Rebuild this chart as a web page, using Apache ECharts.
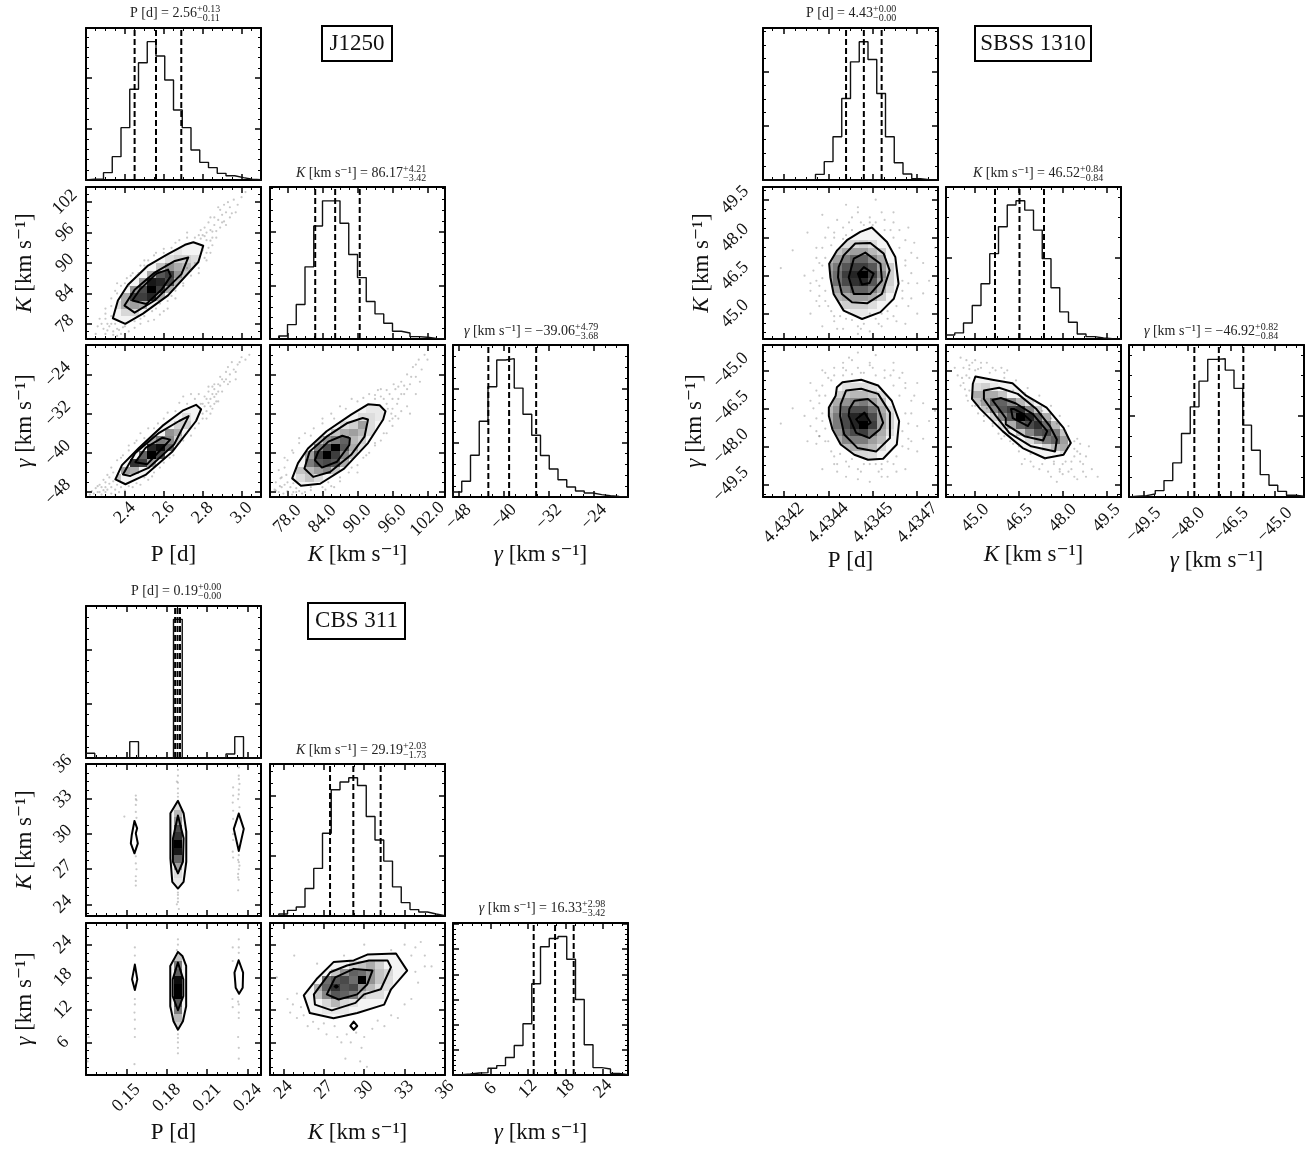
<!DOCTYPE html>
<html>
<head>
<meta charset="utf-8">
<script src="https://cdn.jsdelivr.net/npm/echarts@6/dist/echarts.min.js"></script>
<style>html,body{margin:0;background:#fff}#main{width:1313px;height:1153px}</style>
</head>
<body>
<div id="main"></div>
<script>
// ---- J1250 ----
var j1250PHist = [7,10,72,229,513,889,1150,1356,1216,980,686,513,294,173,121,65,42,23,7,3];
var j1250KHist = [3,28,134,322,672,1053,1287,1287,1078,787,572,350,234,147,72,56,22,16,6,3];
var j1250GHist = [46,145,386,700,1018,1265,1278,1006,765,571,383,259,160,92,56,37,22,12,6,3];
var j1250PDash = [2.45,2.56,2.69], j1250KDash = [82.75,86.17,90.38], j1250GDash = [-42.74,-39.06,-34.27];
var j1250PK = [
  [[2.338,79.1],[2.402,78],[2.493,80],[2.622,83.6],[2.778,90.2],[2.803,93.4],[2.752,94.1],[2.709,93.6],[2.614,91.6],[2.519,89.5],[2.416,85.7],[2.364,82.6]],
  [[2.398,81.6],[2.45,80.2],[2.553,82.6],[2.691,87.8],[2.726,91.1],[2.657,90.4],[2.553,88.1],[2.45,84.7]],
  [[2.438,82.6],[2.51,81.9],[2.588,84.7],[2.636,87.4],[2.622,88.7],[2.562,87.9],[2.476,84.7]]
];
var j1250PG = [
  [[2.351,-45.4],[2.403,-46.4],[2.506,-44.5],[2.645,-39.7],[2.766,-33.5],[2.792,-31.1],[2.766,-30.2],[2.697,-31.4],[2.593,-34.5],[2.472,-39],[2.385,-42.5]],
  [[2.39,-44.4],[2.428,-44.7],[2.524,-43],[2.653,-38.3],[2.728,-32.5],[2.679,-33.5],[2.576,-35.9],[2.454,-40]],
  [[2.454,-41.9],[2.515,-42.3],[2.593,-39],[2.633,-37.3],[2.593,-36.9],[2.506,-39]]
];
var j1250KG = [
  [[78.8,-45.2],[80.3,-46.7],[83.6,-46.3],[87.7,-43.2],[91.8,-38],[94.4,-33.2],[94.8,-31.5],[93.8,-30.3],[91.8,-30.1],[88.9,-32.2],[84.7,-35.6],[81.5,-39.1],[79.8,-42.1]],
  [[80.9,-43.2],[82.4,-44.9],[85.3,-43.9],[88.9,-40.4],[91.2,-36.7],[91.8,-33.2],[90.9,-32.9],[88.3,-33.9],[84.7,-36.7],[81.8,-39.7]],
  [[82.7,-41.5],[83.9,-43],[86.5,-41.8],[88.6,-38.4],[88.7,-37],[87.4,-36.5],[85,-37.7],[83.3,-39.7]]
];
// cell rows: [y bin, first x bin, darkness...]
var j1250PKCells = [[3,4,.12,.12],[4,3,.1,.3,.35,.3],[5,4,.3,.75,.75,.85,.3],[6,5,.4,.7,1,.75,.3],[7,6,.35,.9,.85,.7,.25],[8,7,.3,.65,.75,.4,.2],[9,8,.2,.4,.3,.25,.1],[10,9,.1,.15,.15,.1],[11,10,.05]];
var j1250PGCells = [[2,3,.2],[3,4,.35,.3],[4,5,.8,.75,.35],[5,6,.6,1,.7],[6,7,.85,.95,.6],[7,7,.3,.5,.45,.15],[8,9,.4,.3],[9,10,.15,.15],[10,11,.1]];
var j1250KGCells = [[2,3,.1,.2,.1],[3,3,.2,.25,.35,.45,.2],[4,4,.5,.65,.7,.65,.3],[5,4,.35,.75,1,.75,.45,.2],[6,5,.5,.7,1,.65,.3,.1],[7,5,.2,.4,.5,.6,.25,.15],[8,7,.2,.3,.35,.25,.1],[9,8,.1,.15,.35,.1],[10,10,.1,.1,.05],[11,11,.05,.05]];
var j1250PKDots = [[2.8,95.5],[2.82,94.5],[2.84,96.5],[2.81,97],[2.85,95],[2.86,97.5],[2.83,98],[2.88,98.5],[2.87,96.3],[2.9,99.5],[2.89,100.5],[2.92,100],[2.91,98.2],[2.94,101],[2.93,102],[2.96,102.5],[2.98,101.5],[3,103],[3.02,104],[2.95,99.8],[2.79,96.5],[2.76,95],[2.72,95],[2.85,93.5],[2.8,92.5],[2.84,92],[2.82,90.5],[2.3,79],[2.32,77.5],[2.34,76.5],[2.28,78],[2.36,77],[2.3,76],[2.26,77.5],[2.33,78],[2.38,76],[2.42,76.5],[2.4,75.8],[2.45,77.2],[2.48,78],[2.52,78.5],[2.25,76],[2.3,81],[2.33,81.5],[2.36,84],[2.4,86],[2.43,87.5],[2.47,88],[2.5,90.5],[2.55,91.5],[2.6,92.8],[2.66,94],[2.58,79.8],[2.55,78.8],[2.62,81],[2.66,83],[2.7,85.5],[2.74,87.5],[2.78,88],[2.66,84.5],[2.72,89],[2.6,80.5],[2.76,90],[2.36,86],
  [2.33,83],[2.35,84.5],[2.38,85.5],[2.41,87],[2.44,88],[2.48,89.5],[2.52,90.5],[2.56,92],[2.6,92],[2.64,93],[2.68,94.5],[2.72,96],[2.42,85.5],[2.46,87.5],[2.5,89.5],[2.4,77.5],[2.45,78.5],[2.5,79.5],[2.54,80.5],[2.58,82],[2.62,82.5],[2.66,85],[2.7,86],[2.74,88.5],[2.78,89],[2.82,92],[2.81,91],[2.48,79],[2.56,81],[2.64,83.5],[2.3,80],[2.31,78],[2.33,79.5],[2.35,78],[2.37,76.8],[2.29,77],[2.27,79],[2.34,75.8],[2.31,76.7],[2.36,75.6],[2.39,77.3],[2.83,93],[2.85,96.2],[2.87,95],[2.86,99],[2.89,97],[2.9,98],[2.92,97.5],[2.94,99],[2.97,100],[2.84,99],[2.88,101],[2.91,101.5],[2.79,94.8],[2.82,96],[2.78,95.5],[2.81,95.3],[2.84,94.4]];
var j1250PGDots = [[2.8,-30],[2.82,-31.5],[2.84,-29],[2.83,-27.5],[2.86,-30],[2.87,-28],[2.85,-26.5],[2.88,-26],[2.9,-27.5],[2.89,-24.5],[2.91,-25.5],[2.93,-26],[2.92,-23.5],[2.94,-24],[2.96,-23],[2.95,-21.5],[2.98,-22],[3,-20.5],[3.02,-21],[3.04,-20],[2.97,-25],[2.76,-29],[2.78,-28],[2.81,-28.5],[2.84,-32],[2.86,-26],[2.88,-29.5],[2.8,-33],[2.32,-45],[2.3,-46],[2.33,-47],[2.28,-47],[2.26,-48],[2.3,-48],[2.24,-48.3],[2.35,-47.5],[2.37,-48],[2.34,-44],[2.38,-47],[2.27,-46.5],[2.31,-44.5],[2.4,-47.7],[2.44,-47],[2.22,-48.5],[2.38,-41],[2.42,-39.5],[2.46,-37.5],[2.5,-37],[2.55,-35],[2.6,-33],[2.66,-31.5],[2.72,-30],[2.52,-45.5],[2.58,-43],[2.63,-41],[2.68,-38],[2.72,-36],[2.76,-35],[2.8,-32],[2.48,-46.5],
  [2.33,-43],[2.36,-41.5],[2.39,-40.5],[2.42,-38.5],[2.45,-38],[2.48,-36],[2.52,-35],[2.57,-34],[2.62,-31.8],[2.68,-29.8],[2.7,-28.5],[2.74,-28],[2.42,-46.8],[2.46,-46.2],[2.5,-45],[2.55,-44],[2.6,-42],[2.65,-40.5],[2.7,-37.5],[2.74,-36.5],[2.78,-34],[2.82,-33],[2.85,-31],[2.54,-44.8],[2.82,-29],[2.84,-30.5],[2.85,-28],[2.86,-27],[2.87,-29.5],[2.88,-27.5],[2.89,-26.3],[2.83,-26.5],[2.81,-30.5],[2.79,-30],[2.83,-29.8],[2.86,-28.6],[2.9,-25],[2.92,-25],[2.94,-25.5],[2.93,-22.5],[2.97,-23.5],[2.99,-21.5],[2.3,-47],[2.29,-45.5],[2.32,-46.3],[2.34,-45.8],[2.25,-47.2],[2.28,-48.5],[2.31,-47.5],[2.33,-48.3],[2.36,-46.5],[2.27,-48],[2.35,-48.5],[2.23,-47.8],[2.29,-47.6],[2.26,-46.8]];
var j1250KGDots = [[95,-30],[96,-31],[97,-29],[95.5,-28],[96.5,-27],[98,-28],[97.5,-25.5],[99,-26],[98.5,-24],[100,-24.5],[99.5,-22.5],[101,-23],[100.5,-21],[102,-21],[101.5,-20],[94.5,-29],[93,-29],[96,-33],[97,-33],[98.5,-30.5],[100,-28],[94,-27],[92,-28],[97.5,-31.5],[99,-32],[77,-47],[76.5,-48],[78,-48],[79,-48],[80,-47.8],[78,-46],[77,-45],[76,-46],[81,-48],[75.8,-47.5],[79.5,-47.2],[82,-47.6],[84.5,-47.5],[76.5,-43.5],[77.5,-43],[78,-41.5],[79,-40],[80,-38],[82,-36.5],[84,-34],[86,-33],[88,-31],[90,-29.5],[85,-46],[87,-45],[89,-43],[91,-41],[93,-38],[95,-36],[96,-34.5],[92,-40],[90,-44],[94,-37.5],
  [77.5,-41],[78.8,-39.5],[80,-37],[81,-36],[82.5,-35],[84,-33],[85.5,-32],[87,-30.5],[89,-29],[91,-28.8],[93,-28.2],[82,-47],[84,-47],[85.5,-46.8],[87,-45.8],[88.5,-44],[90,-42.5],[91.5,-40.5],[93,-38.5],[94.5,-36],[95.5,-33.5],[96.5,-32.5],[86,-47],[95.2,-31],[96,-29],[96.8,-30],[97.5,-28],[95,-27.2],[96.2,-26],[97,-26.5],[98,-26.3],[98.5,-27],[99.2,-24.5],[100,-22],[100.7,-25.5],[94,-28.5],[93.5,-27.2],[95.8,-32],[77.5,-46.5],[78.5,-47],[79,-46.2],[76.7,-46.8],[77.8,-44.5],[78,-47.8],[79.5,-48],[80.5,-48.3],[76,-47.7],[76.8,-45.2],[77.3,-48.3],[78.8,-48.5]];

// ---- SBSS 1310 ----
var sbssPHist = [0,0,0,0,5,10,84,272,642,1210,1753,2050,1788,1284,642,257,89,20,5,0];
var sbssKHist = [40,60,158,330,545,841,1106,1320,1363,1270,1073,792,505,267,165,50,23,10,3,0];
var sbssGHist = [7,13,30,63,162,337,627,891,1145,1360,1366,1254,1073,710,462,221,116,56,17,7];
var sbssPDash = [4.43436,4.43442,4.43448], sbssKDash = [45.68,46.52,47.36], sbssGDash = [-47.76,-46.92,-46.08];
var sbssPK = [
  [[4.434303,46.97],[4.434307,46.44],[4.434318,45.78],[4.434352,45.12],[4.434414,44.79],[4.434476,45.06],[4.434521,45.59],[4.434537,46.18],[4.434526,47.24],[4.434498,47.83],[4.434447,48.4],[4.434408,48.23],[4.434363,47.9],[4.43433,47.5]],
  [[4.434333,46.44],[4.434346,45.78],[4.43438,45.45],[4.434431,45.41],[4.434481,45.78],[4.434507,46.71],[4.434487,47.37],[4.434442,47.79],[4.434391,47.77],[4.434352,47.3],[4.434335,46.84]],
  [[4.434369,46.44],[4.434386,45.78],[4.434442,45.78],[4.434481,46.31],[4.434476,46.97],[4.434425,47.41],[4.434386,47.17]],
  [[4.4344,46.58],[4.434414,46.15],[4.434439,46.21],[4.434453,46.58],[4.43442,46.84]]
];
var sbssPG = [
  [[4.434302,-46.8],[4.434314,-47.33],[4.434342,-47.93],[4.434388,-48.33],[4.434434,-48.53],[4.434485,-48.49],[4.434531,-47.93],[4.434539,-47],[4.434514,-46.2],[4.434468,-45.6],[4.434411,-45.37],[4.434348,-45.47],[4.434329,-45.67],[4.434325,-46],[4.434302,-46.47]],
  [[4.43434,-46.8],[4.434354,-47.53],[4.434399,-48.07],[4.434462,-48.2],[4.434508,-47.67],[4.434508,-46.67],[4.434468,-45.93],[4.434411,-45.73],[4.43436,-45.8],[4.434342,-46.33]],
  [[4.434369,-46.8],[4.434394,-47.47],[4.434439,-47.67],[4.434474,-47.33],[4.434485,-47.07],[4.434468,-46.47],[4.434434,-46.13],[4.434388,-46.2],[4.434371,-46.53]],
  [[4.434394,-46.93],[4.434417,-47.27],[4.434443,-47.07],[4.434422,-46.67]]
];
var sbssKG = [
  [[45.01,-45.24],[44.92,-45.53],[44.89,-46.13],[45.18,-46.53],[45.94,-47.4],[46.63,-48.07],[47.39,-48.47],[48.03,-48.33],[48.28,-47.87],[48.03,-47.27],[47.45,-46.47],[46.75,-46],[46.28,-45.51],[45.59,-45.37]],
  [[45.3,-45.8],[45.3,-46.13],[45.71,-46.8],[46.17,-47.47],[46.92,-48],[47.74,-48.2],[47.8,-47.73],[47.56,-47.2],[47.1,-46.53],[46.46,-45.93],[45.82,-45.69]],
  [[45.59,-46.17],[46.05,-46.89],[46.05,-47.13],[46.69,-47.6],[47.33,-47.77],[47.47,-47.4],[46.98,-46.73],[46.4,-46.31],[45.88,-46.09]],
  [[46.23,-46.53],[46.29,-46.89],[46.81,-47.2],[46.92,-47],[46.63,-46.71],[46.34,-46.53]]
];
var sbssPKCells = [[3,10,.05,.05],[4,8,.1,.15,.15,.15,.1],[5,7,.1,.25,.3,.35,.35,.3,.15],[6,7,.25,.35,.5,.6,.6,.5,.3,.1],[7,6,.1,.35,.55,.7,.8,.85,.65,.35,.15],[8,6,.1,.4,.55,.75,.85,1,.75,.45,.15],[9,6,.1,.35,.5,.65,.75,.75,.65,.35,.15],[10,7,.25,.35,.5,.6,.6,.45,.3],[11,7,.1,.2,.3,.35,.35,.25,.15],[12,9,.1,.12,.15,.1]];
var sbssPGCells = [[5,9,.1,.12,.12,.1],[6,8,.15,.25,.3,.3,.25,.1],[7,7,.15,.3,.45,.5,.5,.35,.25],[8,7,.25,.4,.6,.7,.75,.55,.3,.1],[9,7,.3,.5,.7,.85,1,.75,.35,.15],[10,7,.3,.5,.7,.85,.9,.7,.35,.15],[11,7,.25,.4,.6,.7,.7,.55,.3,.1],[12,7,.15,.3,.4,.45,.5,.35,.2],[13,8,.15,.2,.25,.25,.2,.1],[14,9,.08,.1,.1,.08]];
var sbssKGCells = [[5,13,.1,.1],[6,11,.12,.25,.3,.2,.05],[7,9,.1,.3,.5,.6,.35,.15],[8,8,.2,.45,.65,.7,.5,.2],[9,6,.1,.3,.6,.7,.8,.55,.25],[10,5,.15,.45,.65,1,.85,.6,.3],[11,4,.2,.45,.65,.75,.8,.45,.2],[12,3,.2,.35,.6,.6,.45,.25,.1],[13,2,.1,.3,.3,.3,.2],[14,2,.1,.1,.15,.05]];
var sbssPKDots = [[4.43422,46.5],[4.43426,47.2],[4.43424,45.9],[4.43428,46.9],[4.43427,46.1],[4.43429,45.5],[4.43428,47.6],[4.43432,48],[4.43431,45.1],[4.43435,48.4],[4.43436,44.8],[4.43438,48.8],[4.4344,44.5],[4.43432,44.9],[4.4344,49.2],[4.43444,48.8],[4.43447,44.6],[4.43449,48.7],[4.43452,44.9],[4.43454,48.3],[4.43457,45.3],[4.43459,47.8],[4.4346,46.2],[4.43458,46.6],[4.43462,47],[4.43464,46.3],[4.43456,47.1],[4.43457,48.4],[4.43452,49],[4.43446,49.5],[4.43436,49.3],[4.43428,48.9],[4.43423,48.2],[4.43418,47.5],[4.43414,46.8],[4.43424,45],[4.43428,44.5],[4.43444,44.3],[4.43456,44.6],[4.4346,45],[4.43466,47.6],[4.43462,45.8],[4.43455,45.9],[4.43441,48.6],[4.43437,45],[4.4343,48.4],[4.43451,48.3],[4.43448,45],[4.43433,44.4],[4.43444,45],[4.43427,45.7],[4.43426,47.6],[4.4346,47.2],[4.43445,48.5],[4.43436,48.1],[4.4345,44.8],
  [4.43429,47.2],[4.43428,46.4],[4.43429,45.9],[4.4343,45.3],[4.43434,44.9],[4.43438,44.75],[4.43442,44.6],[4.43446,44.8],[4.4345,45.1],[4.43453,45.3],[4.43455,45.6],[4.43455,46.3],[4.43456,46.9],[4.43454,47.6],[4.43452,48],[4.43449,48.3],[4.43446,48.6],[4.43442,48.5],[4.43438,48.3],[4.43435,47.95],[4.43431,47.7],[4.43427,47],[4.43426,46.3],[4.43427,45.3],[4.43432,44.7],[4.43441,44.4],[4.43448,44.5],[4.43453,44.7],[4.43458,45.6],[4.43457,46.2],[4.43458,47.4],[4.43456,47.9],[4.43452,48.6],[4.43444,48.6],[4.43437,48.6],[4.43432,48.2],[4.43429,48],[4.43425,46.7],[4.43424,46.2],[4.43426,45.5],[4.4344,49],[4.43448,49],[4.43433,48.7],[4.4344,44.2],[4.43435,44.4]];
var sbssPGDots = [[4.43422,-46.8],[4.43426,-47.4],[4.43424,-46.2],[4.43428,-47],[4.43427,-46.3],[4.43429,-47.8],[4.43428,-45.6],[4.43432,-45.2],[4.43431,-48.2],[4.43435,-44.9],[4.43436,-48.6],[4.43438,-44.6],[4.4344,-48.9],[4.43432,-48.7],[4.4344,-44.3],[4.43444,-44.8],[4.43447,-49],[4.43449,-45],[4.43452,-48.7],[4.43454,-45.3],[4.43457,-48.1],[4.43459,-46],[4.4346,-47.2],[4.43458,-46.7],[4.43462,-46.3],[4.43464,-47],[4.43456,-45.7],[4.43457,-47.7],[4.43452,-44.7],[4.43446,-44.4],[4.43436,-49.2],[4.43428,-48.9],[4.43423,-47.8],[4.43418,-46.5],[4.43414,-47.1],[4.43424,-45.5],[4.43428,-45],[4.43444,-49.4],[4.43456,-48.9],[4.4346,-48.2],[4.43466,-46.6],[4.43462,-47.7],[4.43455,-45.1],[4.43441,-45.1],[4.43437,-48.8],[4.4343,-45.3],[4.43451,-45.2],[4.43448,-48.7],[4.43433,-49],[4.43444,-48.7],[4.43427,-47.6],[4.43426,-45.8],[4.4346,-45.5],[4.43445,-44.9],[4.43436,-45],[4.4345,-49.2],
  [4.43429,-46],[4.43428,-46.7],[4.43429,-47.3],[4.4343,-47.8],[4.43434,-48.3],[4.43438,-48.5],[4.43442,-48.7],[4.43446,-48.7],[4.4345,-48.6],[4.43453,-48.4],[4.43455,-48],[4.43455,-47.4],[4.43456,-46.7],[4.43454,-46],[4.43452,-45.6],[4.43449,-45.3],[4.43446,-45.2],[4.43442,-45.1],[4.43438,-45.15],[4.43435,-45.2],[4.43431,-45.4],[4.43427,-46],[4.43426,-46.9],[4.43427,-47.6],[4.43432,-48.4],[4.43441,-49],[4.43448,-49.2],[4.43453,-49],[4.43458,-47.8],[4.43457,-47.1],[4.43458,-46.2],[4.43456,-45.5],[4.43452,-45],[4.43444,-44.7],[4.43437,-44.5],[4.43432,-44.9],[4.43429,-45.1],[4.43425,-46.5],[4.43424,-47.2],[4.43426,-47.9],[4.4344,-49.3],[4.43448,-48.9],[4.43433,-48.7],[4.4344,-44.9],[4.43435,-44.7]];
var sbssKGDots = [[44.4,-45.2],[44.6,-44.9],[44.5,-45.6],[44.7,-46],[44.8,-44.8],[45,-44.6],[45.2,-44.9],[45.4,-44.7],[45.7,-45],[46,-45.3],[44.9,-46.4],[45.1,-46.7],[45.3,-47],[44.6,-45.5],[44.8,-45.3],[45,-45],[46.3,-45.8],[46.7,-45.9],[47,-46.2],[47.3,-46.6],[47.6,-46.9],[47.8,-47.1],[48.1,-47.4],[48.4,-47.8],[48.5,-48.2],[48.6,-48.6],[48.3,-48.6],[48,-48.7],[47.7,-48.6],[47.4,-48.5],[46.9,-48.3],[46.5,-48],[46,-47.6],[45.6,-47.2],[48.7,-49],[48.4,-49.2],[48,-49.1],[47.8,-49.4],[48.9,-48],[49,-48.9],[49.2,-49.2],[47.2,-48.9],[46.6,-48.7],[48.2,-48],[48.4,-48.4],[48.6,-47.9],[47.9,-48.9],[47.5,-49],[46.3,-47.9],[45.8,-47.5],[45.4,-46.5],[45.2,-46.2],[45.9,-44.9],[44.5,-44.5],[44.3,-44.9],[48.8,-48.4],
  [44.7,-45.2],[44.8,-45.8],[44.75,-46.2],[45,-46.4],[45.3,-46.8],[45.6,-47.1],[45.9,-47.7],[46.2,-47.8],[46.5,-48.2],[46.9,-48.6],[47.3,-48.7],[47.7,-48.7],[48.1,-48.6],[48.4,-48.1],[48.5,-47.7],[48.2,-47.2],[47.9,-46.8],[47.6,-46.4],[47.2,-46],[46.8,-45.7],[46.4,-45.4],[46,-45.1],[45.5,-45.1],[45.1,-44.95],[44.8,-44.95],[44.55,-45.3],[44.65,-45.75],[48.6,-48.3],[48.7,-48.7],[48.5,-49.3],[48.2,-49],[47.9,-49],[47.6,-49.2],[47,-48.8],[46.7,-48.5],[48.8,-49.2],[48.3,-48.9],[45.2,-44.7],[44.9,-44.7],[44.7,-44.6],[45.6,-44.9],[46.1,-45]];

// ---- CBS 311 ----
var cbsPHist = [260,0,0,0,0,906,0,0,0,0,7680,0,0,0,0,0,222,1184,0,0];
var cbsKHist = [0,17,47,75,228,395,687,1048,1112,1148,1084,826,631,456,242,111,53,33,17,3];
var cbsGHist = [7,20,40,47,133,187,347,587,1020,1814,2548,2714,2754,2300,1500,600,147,120,33,7];
var cbsPDash = [.1862,.188,.1898], cbsKDash = [27.46,29.19,31.22], cbsGDash = [12.91,16.33,19.31];
var cbsPK = [
  [[.1883,32.85],[.1827,31.79],[.1827,27.93],[.1841,25.92],[.1883,25.35],[.1925,25.92],[.1945,27.64],[.1945,30.22],[.1925,31.79]],
  [[.1883,31.59],[.1846,29.64],[.1846,27.64],[.1883,26.64],[.192,27.64],[.1925,29.64]],
  [[.156,31.13],[.154,29.93],[.1533,29.21],[.156,28.36],[.1585,29.21],[.157,30.07],[.158,30.5]],
  [[.2335,31.76],[.2298,30.45],[.2335,28.56],[.2372,30.45]]
];
var cbsPG = [
  [[.1883,22.68],[.1826,20.09],[.1826,12.67],[.185,9.89],[.1883,8.35],[.192,9.89],[.1944,12.67],[.1944,20.09],[.1916,21.94]],
  [[.1883,20.71],[.1844,17.62],[.1844,14.53],[.1883,11.93],[.1923,14.53],[.1923,17.62]],
  [[.1563,20.34],[.1542,17.62],[.1563,15.64],[.1581,17.62]],
  [[.2334,21.14],[.2303,18.85],[.2312,16.07],[.2337,14.96],[.2364,16.07],[.2367,18.85]]
];
var cbsKG = [
  [[25.51,14.66],[25.96,11.41],[27.72,10.47],[29.48,11.41],[31.48,12.97],[31.99,15.79],[33.19,19.23],[32.36,22.37],[30.23,22.18],[29.22,21.11],[27.72,20.8],[26.46,17.67]],
  [[26.26,14.85],[26.34,12.97],[27.59,11.91],[29.35,13.29],[29.98,14.85],[31.23,15.79],[31.99,19.86],[31.73,21.11],[30.35,21.11],[28.72,20.17],[27.47,18.92]],
  [[27.22,14.85],[28.1,13.91],[29.48,14.85],[30.23,16.73],[30.61,19.23],[29.22,19.55],[27.85,18]],
  [[29.22,9.84],[28.97,9.03],[29.22,8.34],[29.48,9.03]],
  [[27.8,16.3],[27.92,16.5],[28.04,16.3],[27.92,16.1]]
];
var cbsPKCells = [[4,10,.05],[5,10,.1],[6,10,.35],[7,10,.6],[8,10,.9],[9,10,1],[10,10,.8],[11,10,.7],[12,10,.4],[13,10,.25],[14,10,.1],[15,10,.05]];
var cbsPGCells = [[5,10,.05],[6,10,.15],[7,10,.25],[8,10,.5],[9,10,.65],[10,10,1],[11,10,1],[12,10,.95],[13,10,.6],[14,10,.5],[15,10,.2],[16,10,.05]];
var cbsKGCells = [[8,6,.05,.05,.05],[9,6,.12,.25,.12,.08],[10,5,.2,.45,.65,.6,.5,.2,.1,.1],[11,5,.3,.6,.8,.65,.7,.4,.25,.1,.08],[12,6,.55,.65,.7,.55,1,.4,.2,.1],[13,7,.2,.4,.6,.55,.4,.2,.12],[14,9,.15,.2,.3,.15]];
var cbsPKDots = [[.1883,24.2],[.1883,24.8],[.1875,24],[.189,23.6],[.1883,25],[.1883,33.2],[.1883,33.9],[.1875,34.5],[.1883,35],[.157,33.3],[.157,32.5],[.157,31.9],[.1575,31.4],[.157,28.1],[.157,27.5],[.1575,27],[.157,26.4],[.157,25.6],[.1575,32.9],[.2335,35.7],[.2335,35],[.234,34.3],[.2335,33.8],[.233,33],[.234,32.3],[.2335,28.2],[.233,27.8],[.234,27.3],[.2335,27],[.233,26.6],[.2335,26.1],[.233,25.2],[.2293,34],[.2293,33.3],[.229,32.7],[.2293,32],[.2293,31.3],[.2293,29.5],[.229,28.5],[.1485,31.5],[.1883,35.5],[.1883,34.4],[.1883,33.5],[.1883,24.5],[.157,33],[.157,26],[.2335,34.7],[.2335,33.4],[.2335,27.6],[.233,26.3],[.2293,30],[.2293,28]];
var cbsPGDots = [[.1883,7.5],[.1883,6.8],[.1883,6],[.1883,5],[.1883,4],[.1883,24],[.1883,25],[.1875,23],[.1563,23.5],[.1563,22],[.1563,14],[.1563,13],[.156,11.5],[.1563,10.2],[.1563,8.5],[.1563,7],[.156,2],[.2335,25],[.2335,23.5],[.2335,22.5],[.233,13.5],[.2335,13],[.2335,11.5],[.2335,10.5],[.233,7],[.2335,5],[.2335,3],[.229,23.5],[.229,21],[.2288,14],[.229,12.5],[.1212,21],[.1212,15],[.1212,12],[.122,7],[.1212,2.5],[.123,18]];
var cbsKGDots = [[24.3,14],[24.7,13],[25,15],[25.3,12.5],[24.5,11.5],[25,10.5],[25.5,11],[25.8,9],[26.2,9.8],[26.6,8.5],[27,9.5],[27.2,7.5],[27.8,9],[28,7],[28.3,6],[28.7,7.5],[29,6],[29.4,7.8],[29.8,5],[30,7],[30.6,8.5],[31,10],[31.5,9],[32,11],[32.5,10.5],[33,13],[33.5,14],[34,17],[34.5,20],[33.8,19],[34.5,22],[33.8,23.5],[33,24],[34.2,24.5],[32,23],[35,20],[30,24],[28.5,22],[26.5,20.5],[24.8,22],[23.5,18],[28.6,3],[29.7,2.5],[30.2,1.5],[33.5,22]];

var SERIF = '"Liberation Serif","DejaVu Serif",serif';
var NAMES = ['P [d]', '{i|K} [km s⁻¹]', '{i|γ} [km s⁻¹]'];

var stars = [
  { name: 'J1250', box: [322,26,70,35], cols: [86,270,453], rows: [28,187,345],
    lims: [[2.2,3.1],[75,105],[-49,-18]],
    ticks: [[2.4,2.6,2.8,3.0],[78,84,90,96,102],[-48,-40,-32,-24]],
    xLabels: [['2.4','2.6','2.8','3.0'],['78.0','84.0','90.0','96.0','102.0'],['−48','−40','−32','−24']],
    yLabels: [null,['78','84','90','96','102'],['−48','−40','−32','−24']],
    xMargin: [16,22,20], yMargin: [0,21,28], xNameGap: [46,46,46],
    hist: [j1250PHist,j1250KHist,j1250GHist], dash: [j1250PDash,j1250KDash,j1250GDash],
    histTop: [1490,1416,1404], histStep: [500,500,500], histDiv: [5,5,5],
    pairs: [[0,1,j1250PK,j1250PKCells,j1250PKDots],[0,2,j1250PG,j1250PGCells,j1250PGDots],[1,2,j1250KG,j1250KGCells,j1250KGDots]] },
  { name: 'SBSS 1310', box: [975,26,116,35], cols: [763,946,1129], rows: [28,187,345],
    lims: [[4.43408,4.43467],[44,50],[-50,-44]],
    ticks: [[4.43415,4.4343,4.43445,4.4346],[45,46.5,48,49.5],[-49.5,-48,-46.5,-45]],
    xLabels: [['4.4342','4.4344','4.4345','4.4347'],['45.0','46.5','48.0','49.5'],['−49.5','−48.0','−46.5','−45.0']],
    yLabels: [null,['45.0','46.5','48.0','49.5'],['−49.5','−48.0','−46.5','−45.0']],
    xMargin: [26,21,28], yMargin: [0,28,32], xNameGap: [40,46,40],
    hist: [sbssPHist,sbssKHist,sbssGHist], dash: [sbssPDash,sbssKDash,sbssGDash],
    histTop: [2255,1498,1502], histStep: [800,800,800], histDiv: [4,4,4],
    pairs: [[0,1,sbssPK,sbssPKCells,sbssPKDots],[0,2,sbssPG,sbssPGCells,sbssPGDots],[1,2,sbssKG,sbssKGCells,sbssKGDots]] },
  { name: 'CBS 311', box: [308,603,97,36], cols: [86,270,453], rows: [606,764,923],
    lims: [[.12,.25],[23,36],[0,28]],
    ticks: [[.15,.18,.21,.24],[24,27,30,33,36],[6,12,18,24]],
    xLabels: [['0.15','0.18','0.21','0.24'],['24','27','30','33','36'],['6','12','18','24']],
    yLabels: [null,['24','27','30','33','36'],['6','12','18','24']],
    xMargin: [23,15,14], yMargin: [0,23,23], xNameGap: [46,46,46],
    hist: [cbsPHist,cbsKHist,cbsGHist], dash: [cbsPDash,cbsKDash,cbsGDash],
    histTop: [8420,1262,3021], histStep: [3000,500,500], histDiv: [5,5,5],
    pairs: [[0,1,cbsPK,cbsPKCells,cbsPKDots],[0,2,cbsPG,cbsPGCells,cbsPGDots],[1,2,cbsKG,cbsKGCells,cbsKGDots]] }
];

// [text, right end of base text, y, plus, minus]
var titles = [
  ['P [d] = 2.56',197,13,'+0.13','−0.11'],['{i|K} [km s⁻¹] = 86.17',403,173,'+4.21','−3.42'],['{i|γ} [km s⁻¹] = −39.06',575,331,'+4.79','−3.68'],
  ['P [d] = 4.43',873,13,'+0.00','−0.00'],['{i|K} [km s⁻¹] = 46.52',1080,173,'+0.84','−0.84'],['{i|γ} [km s⁻¹] = −46.92',1255,331,'+0.82','−0.84'],
  ['P [d] = 0.19',198,591,'+0.00','−0.00'],['{i|K} [km s⁻¹] = 29.19',403,750,'+2.03','−1.73'],['{i|γ} [km s⁻¹] = 16.33',582,908,'+2.98','−3.42']
];

var PW = 175, PH = 152, BINS = 20;
var option = { animation: false, backgroundColor: '#fff', grid: [], xAxis: [], yAxis: [], series: [], graphic: [] };

function minorsOf(majors, ndiv, lim) {
  var step = (majors[1] - majors[0]) / ndiv, out = [];
  for (var k = -ndiv * 3; k < ndiv * (majors.length + 3); k++) {
    if (((k % ndiv) + ndiv) % ndiv === 0) continue;
    var v = majors[0] + k * step;
    if (v >= lim[0] && v <= lim[1]) out.push(v);
  }
  return out;
}

function addPanel(left, top, xLim, yLim, xMajor, yMajor, yDiv, xCfg, yCfg) {
  var g = option.grid.length;
  option.grid.push({ left: left, top: top, width: PW, height: PH, containLabel: false });
  var xMinor = minorsOf(xMajor, 4, xLim), yMinor = minorsOf(yMajor, yDiv, yLim);
  var xi = option.xAxis.length, yi = option.yAxis.length;
  function axis(lim, pos, vals, len, width, line, extra) {
    var a = { type: 'value', gridIndex: g, position: pos, min: lim[0], max: lim[1], splitLine: { show: false },
      axisLine: { show: line, onZero: false, lineStyle: { color: '#000', width: 2 } },
      axisTick: { show: true, inside: true, length: len, customValues: vals, lineStyle: { color: '#000', width: width } },
      axisLabel: { show: false } };
    return Object.assign(a, extra || {});
  }
  function labelled(cfg, vals) {
    if (!cfg) return {};
    var o = { axisLabel: { show: true, rotate: 45, align: 'center', verticalAlign: 'middle', margin: cfg.margin,
      customValues: vals, fontFamily: SERIF, fontSize: 18, color: '#111',
      formatter: function (v) { return cfg.labels[vals.indexOf(v)]; } } };
    if (cfg.name) {
      o.name = cfg.name; o.nameLocation = 'middle'; o.nameGap = cfg.gap;
      o.nameTextStyle = { fontFamily: SERIF, fontSize: 23, color: '#111', rich: { i: { fontFamily: SERIF, fontStyle: 'italic', fontSize: 23, color: '#111' } } };
    }
    return o;
  }
  option.xAxis.push(axis(xLim, 'bottom', xMajor, 6, 1.5, true, labelled(xCfg, xMajor)));
  option.xAxis.push(axis(xLim, 'bottom', xMinor, 3, 1, false));
  option.xAxis.push(axis(xLim, 'top', xMajor, 6, 1.5, true));
  option.xAxis.push(axis(xLim, 'top', xMinor, 3, 1, false));
  option.yAxis.push(axis(yLim, 'left', yMajor, 6, 1.5, true, labelled(yCfg, yMajor)));
  option.yAxis.push(axis(yLim, 'left', yMinor, 3, 1, false));
  option.yAxis.push(axis(yLim, 'right', yMajor, 6, 1.5, true));
  option.yAxis.push(axis(yLim, 'right', yMinor, 3, 1, false));
  return { xAxisIndex: xi, yAxisIndex: yi };
}

function stepLine(vals, lim) {
  var w = (lim[1] - lim[0]) / vals.length, pts = [[lim[0], 0]];
  vals.forEach(function (v, i) { pts.push([lim[0] + i * w, v]); pts.push([lim[0] + (i + 1) * w, v]); });
  pts.push([lim[1], 0]);
  return pts;
}

function polygon(idx, pts, fill, stroke) {
  option.series.push(Object.assign({ type: 'custom', coordinateSystem: 'cartesian2d', silent: true, clip: true, data: pts, encode: { x: 0, y: 1 },
    renderItem: function (params, api) {
      if (params.dataIndex > 0) return null;
      return { type: 'polygon', shape: { points: pts.map(function (p) { return api.coord(p); }) },
        style: { fill: fill, stroke: stroke, lineWidth: 2, lineJoin: 'round' } };
    } }, idx));
}

// 2d histogram cells, cut off along the outermost contour
function cellSeries(idx, rows, xLim, yLim, outer) {
  var dx = (xLim[1] - xLim[0]) / BINS, dy = (yLim[1] - yLim[0]) / BINS, data = [];
  rows.forEach(function (r) {
    for (var k = 2; k < r.length; k++) data.push([xLim[0] + (r[1] + k - 2) * dx, yLim[0] + r[0] * dy, r[k]]);
  });
  option.series.push(Object.assign({ type: 'custom', coordinateSystem: 'cartesian2d', silent: true, clip: true, data: data, encode: { x: 0, y: 1 },
    renderItem: function (params, api) {
      var a = api.coord([api.value(0), api.value(1) + dy]), b = api.coord([api.value(0) + dx, api.value(1)]);
      var g = Math.round(245 * (1 - api.value(2)));
      var x0 = Math.round(a[0]), y0 = Math.round(a[1]);
      return { type: 'rect', shape: { x: x0, y: y0, width: Math.round(b[0]) - x0, height: Math.round(b[1]) - y0 },
        style: { fill: 'rgb(' + g + ',' + g + ',' + g + ')' },
        clipPath: { type: 'polygon', shape: { points: outer.map(function (p) { return api.coord(p); }) } } };
    } }, idx));
}

stars.forEach(function (s) {
  var last = 2;
  // histograms on the diagonal
  s.hist.forEach(function (vals, i) {
    var yLim = [0, s.histTop[i]], yMajor = [];
    for (var v = 0; v <= yLim[1]; v += s.histStep[i]) yMajor.push(v);
    var xCfg = i === last ? { margin: s.xMargin[i], labels: s.xLabels[i], name: NAMES[i], gap: s.xNameGap[i] } : null;
    var idx = addPanel(s.cols[i], s.rows[i], s.lims[i], yLim, s.ticks[i], yMajor, s.histDiv[i], xCfg, null);
    option.series.push(Object.assign({ type: 'line', data: stepLine(vals, s.lims[i]), showSymbol: false, silent: true,
      lineStyle: { color: '#111', width: 1.4 } }, idx));
    s.dash[i].forEach(function (d) {
      option.series.push(Object.assign({ type: 'line', data: [[d, 0], [d, yLim[1]]], showSymbol: false, silent: true,
        lineStyle: { color: '#000', width: 2, type: [6, 3] } }, idx));
    });
  });
  // 2d panels below the diagonal
  s.pairs.forEach(function (p) {
    var cx = p[0], cy = p[1], xLim = s.lims[cx], yLim = s.lims[cy];
    var xCfg = cy === last ? { margin: s.xMargin[cx], labels: s.xLabels[cx], name: NAMES[cx], gap: s.xNameGap[cx] } : null;
    var yCfg = cx === 0 ? { margin: s.yMargin[cy], labels: s.yLabels[cy], name: NAMES[cy], gap: 50 } : null;
    var idx = addPanel(s.cols[cx], s.rows[cy], xLim, yLim, s.ticks[cx], s.ticks[cy], 4, xCfg, yCfg);
    option.series.push(Object.assign({ type: 'scatter', data: p[4], symbolSize: 2.2, silent: true,
      itemStyle: { color: '#555', opacity: 0.32 } }, idx));
    polygon(idx, p[2][0], '#f4f4f4', null);
    cellSeries(idx, p[3], xLim, yLim, p[2][0]);
    p[2].forEach(function (c) { polygon(idx, c, 'rgba(0,0,0,0)', '#000'); });
  });
  // name box
  option.graphic.push({ type: 'rect', z: 20, shape: { x: s.box[0], y: s.box[1], width: s.box[2], height: s.box[3] },
    style: { fill: '#fff', stroke: '#000', lineWidth: 2 } });
  option.graphic.push({ type: 'text', z: 21, style: { x: s.box[0] + s.box[2] / 2, y: s.box[1] + s.box[3] / 2, text: s.name,
    fontFamily: SERIF, fontSize: 23, fill: '#111', align: 'center', verticalAlign: 'middle' } });
});

titles.forEach(function (t) {
  option.graphic.push({ type: 'text', z: 21, style: { x: t[1], y: t[2], text: t[0], fontFamily: SERIF, fontSize: 14, fill: '#222', align: 'right', verticalAlign: 'middle',
    rich: { i: { fontFamily: SERIF, fontStyle: 'italic', fontSize: 14, fill: '#222' } } } });
  option.graphic.push({ type: 'text', z: 21, style: { x: t[1], y: t[2] - 4, text: t[3], fontFamily: SERIF, fontSize: 10, fill: '#222', align: 'left', verticalAlign: 'middle' } });
  option.graphic.push({ type: 'text', z: 21, style: { x: t[1], y: t[2] + 5, text: t[4], fontFamily: SERIF, fontSize: 10, fill: '#222', align: 'left', verticalAlign: 'middle' } });
});

var chart = echarts.init(document.getElementById('main'), null, { renderer: 'canvas' });
chart.setOption(option);
</script>
</body>
</html>
